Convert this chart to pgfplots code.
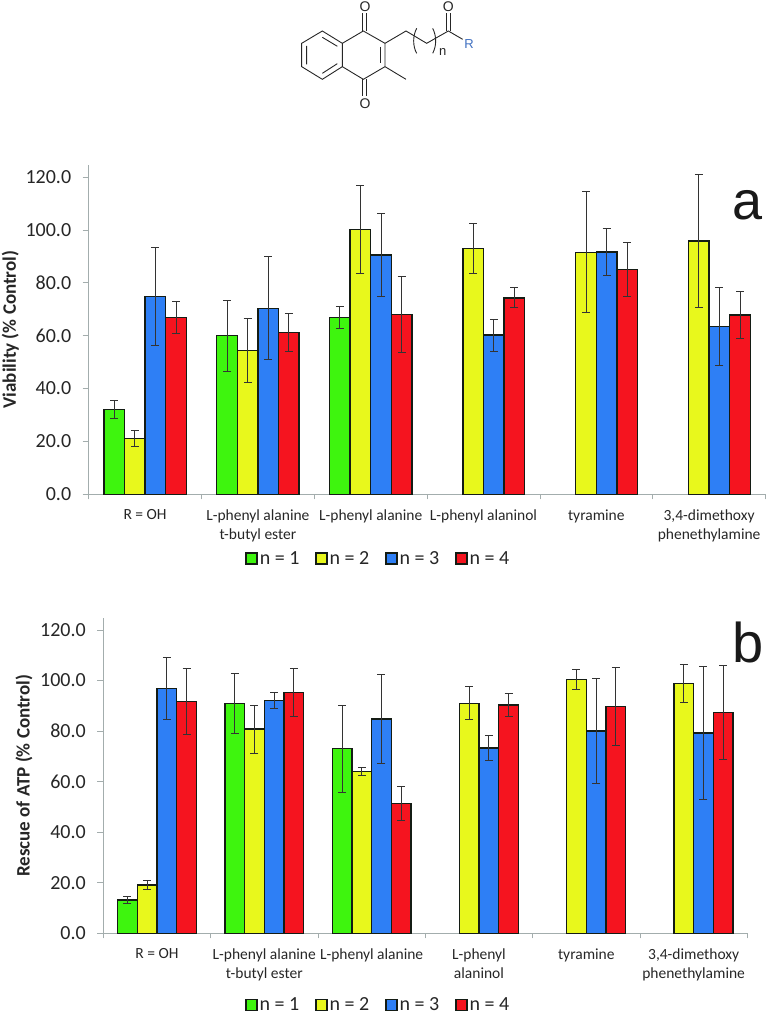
\documentclass[border=0pt]{standalone}
\usepackage{fontspec}
\setmainfont{Carlito}
\newfontfamily\helv{Liberation Sans}
\usepackage{pgfplots}
\pgfplotsset{compat=1.18}
\definecolor{cg}{HTML}{3EF50E}
\definecolor{cy}{HTML}{E8F81C}
\definecolor{cb}{HTML}{2E7FF5}
\definecolor{cr}{HTML}{F5141F}
\definecolor{ax}{HTML}{A3ADAD}
\definecolor{ed}{HTML}{141C14}
\definecolor{er}{HTML}{333333}
\definecolor{rb}{HTML}{3F6FC0}
\pgfplotsset{
  panel/.style={
    scale only axis,
    anchor=south west,
    xmin=0,xmax=6,ymin=0,ymax=124.6,
    ybar=0pt,
    axis lines=left,
    axis line style={-,draw=ax,line width=0.9pt},
    tick align=outside,
    tick style={draw=ax,line width=0.8pt},
    major tick length=6pt,
    minor tick length=5pt,
    ytick={0,20,40,60,80,100,120},
    xtick={0.5,1.5,2.5,3.5,4.5,5.5},
    minor xtick={0,1,2,3,4,5,6},
    major x tick style={draw=none},
    yticklabel style={font=\fontsize{20}{22}\selectfont,text=black!85,xshift=-8pt,/pgf/number format/fixed,/pgf/number format/fixed zerofill,/pgf/number format/precision=1,/pgf/number format/assume math mode=true},
    xticklabel style={font=\fontsize{15.5}{19}\selectfont,text=black!85,align=center,anchor=north,yshift=-6pt},
    legend columns=4,
    legend style={draw=none,fill=none,anchor=center,font=\fontsize{20}{22}\selectfont,text=black!85,
      /tikz/every even column/.append style={column sep=14pt}},
    legend image code/.code={\draw[#1,line width=1.3pt] (0pt,-5.5pt) rectangle (11pt,5.5pt);},
    ylabel style={font=\bfseries\fontsize{19}{22}\selectfont,text=black!85,anchor=center},
    every axis plot/.append style={draw=ed,line width=1.4pt,
      error bars/y dir=both,error bars/y explicit,
      error bars/error bar style={draw=er,line width=1pt},
      error bars/error mark options={draw=er,line width=1pt,mark size=4pt,rotate=90}},
  }
}
\begin{document}
\begin{tikzpicture}[x=1pt,y=1pt]
\path[use as bounding box] (0,0) rectangle (767,1014);

% Structure
\begin{scope}[shift={(280,1014)},x=0.33333pt,y=-0.33333pt,line width=0.9pt,draw=black!85]
\draw (127,93)--(187,130)--(187,200)--(127,238)--(65,200)--(65,130)--cycle;
\draw (80,138)--(80,193) (127,112)--(172,139) (127,220)--(172,191);
\draw (187,130)--(250,93)--(315,130)--(315,200)--(250,238)--(187,200);
\draw (300,140)--(300,190);
\draw (247,93)--(247,40) (258,93)--(258,40);
\draw (247,238)--(247,288) (258,238)--(258,288);
\draw (315,200)--(378,238);
\draw (315,130)--(378,93)--(440,130)--(505,93)--(548,118);
\draw (499,93)--(499,38) (511,93)--(511,38);
\draw (410,85) .. controls (398,108) and (398,138) .. (410,160);
\draw (458,85) .. controls (470,108) and (470,138) .. (458,160);
\node[font=\helv\fontsize{14}{16}\selectfont,text=black!85] at (255,20) {O};
\node[font=\helv\fontsize{14}{16}\selectfont,text=black!85] at (255,310) {O};
\node[font=\helv\fontsize{14}{16}\selectfont,text=black!85] at (505,20) {O};
\node[font=\helv\fontsize{13}{16}\selectfont,text=black!85] at (488,155) {n};
\node[font=\helv\fontsize{13}{16}\selectfont,text=rb] at (567,132) {R};
\end{scope}

% Panel a
\begin{axis}[panel,at={(88.7pt,519.7pt)},width=676.8pt,height=329.3pt,bar width=20.6pt,
  ylabel={Viability (\% Control)},
  ylabel style={at={(axis description cs:-0.116,0.5)}},
  xticklabels={{R = OH},{L-phenyl alanine\\t-butyl ester},{L-phenyl alanine},{L-phenyl alaninol},{tyramine},{3,4-dimethoxy\\phenethylamine}},
  legend style={at={(axis description cs:0.428,-0.195)}}]
\addplot[fill=cg] table[x=x,y=y,y error=e] {
x y e
0.5 32.0 3.4
1.5 60.0 13.4
2.5 66.9 4.0
};
\addplot[fill=cy] table[x=x,y=y,y error=e] {
x y e
0.5 21.2 3.0
1.5 54.4 12.1
2.5 100.2 16.8
3.5 93.0 9.6
4.5 91.6 22.8
5.5 95.9 25.1
};
\addplot[fill=cb] table[x=x,y=y,y error=e] {
x y e
0.5 74.8 18.5
1.5 70.4 19.5
2.5 90.6 15.6
3.5 60.2 6.0
4.5 91.7 8.8
5.5 63.5 14.8
};
\addplot[fill=cr] table[x=x,y=y,y error=e] {
x y e
0.5 66.8 6.0
1.5 61.2 7.3
2.5 68.0 14.4
3.5 74.3 3.8
4.5 85.0 10.2
5.5 67.9 8.8
};
\legend{n = 1,n = 2,n = 3,n = 4}
\end{axis}

% Panel b
\begin{axis}[panel,at={(103.3pt,80.7pt)},width=644pt,height=315pt,bar width=19.7pt,
  ylabel={Rescue of ATP (\% Control)},
  ylabel style={at={(axis description cs:-0.123,0.5)}},
  xticklabels={{R = OH},{L-phenyl alanine\\t-butyl ester},{L-phenyl alanine},{L-phenyl\\alaninol},{tyramine},{3,4-dimethoxy\\phenethylamine}},
  legend style={at={(axis description cs:0.427,-0.228)}}]
\addplot[fill=cg] table[x=x,y=y,y error=e] {
x y e
0.5 13.2 1.3
1.5 90.9 11.7
2.5 73.0 17.3
};
\addplot[fill=cy] table[x=x,y=y,y error=e] {
x y e
0.5 19.1 1.7
1.5 80.8 9.5
2.5 64.0 1.5
3.5 91.0 6.6
4.5 100.5 3.9
5.5 98.9 7.6
};
\addplot[fill=cb] table[x=x,y=y,y error=e] {
x y e
0.5 96.9 12.3
1.5 92.0 3.2
2.5 84.7 17.7
3.5 73.3 5.0
4.5 80.0 20.7
5.5 79.3 26.4
};
\addplot[fill=cr] table[x=x,y=y,y error=e] {
x y e
0.5 91.7 12.9
1.5 95.2 9.5
2.5 51.3 6.8
3.5 90.3 4.5
4.5 89.7 15.5
5.5 87.3 18.5
};
\legend{n = 1,n = 2,n = 3,n = 4}
\end{axis}

\node[anchor=base,font=\helv\fontsize{54}{60}\selectfont,text=black!90] at (748,794.5) {a};
\node[anchor=base,font=\helv\fontsize{56}{60}\selectfont,text=black!90] at (748,351) {b};
\end{tikzpicture}
\end{document}
